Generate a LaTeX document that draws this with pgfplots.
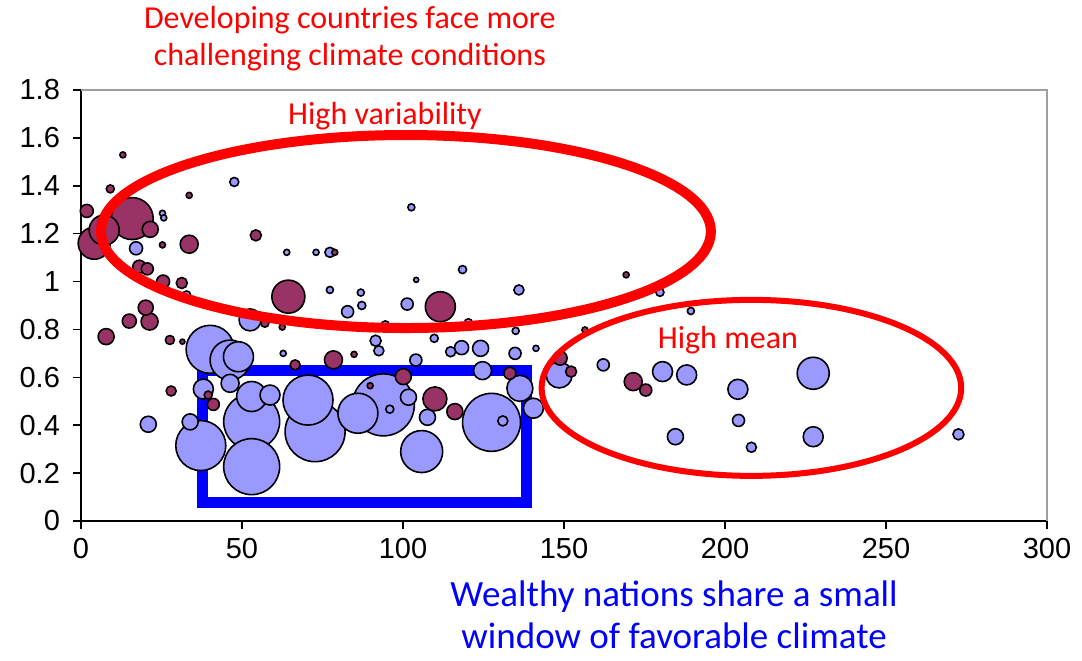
\documentclass[border=0pt]{standalone}
\usepackage{fontspec}
\setmainfont{Carlito}
\newfontfamily\arialfont{Liberation Sans}
\newcommand\tkf{\arialfont\fontsize{14.5}{16}\selectfont}
\usepackage{pgfplots}
\usepackage{pgfplotstable}
\pgfplotsset{compat=1.18}
\definecolor{bub}{RGB}{153,153,255}
\definecolor{plum}{RGB}{153,51,102}

\pgfplotstableread{
x y r
93.9 0.485 15.5
72.7 0.373 15
127.5 0.412 14.5
53.0 0.415 14
53.0 0.227 14
70.5 0.505 12.5
37.2 0.315 12.5
40.1 0.717 12
105.8 0.290 10.5
46.3 0.672 10
86.0 0.450 10
227.4 0.617 8
48.9 0.686 7.5
53.0 0.520 7.5
136.3 0.554 6.5
148.5 0.610 6.5
52.5 0.840 5.5
38.0 0.551 5
58.7 0.526 5
140.5 0.471 5
180.6 0.624 5
188.1 0.610 5
204.0 0.550 5
227.4 0.352 5
46.3 0.575 4.5
124.7 0.628 4.5
20.9 0.404 4
33.9 0.414 4
101.7 0.517 4
107.6 0.433 4
124.1 0.721 4
184.6 0.352 4
118.2 0.724 3.5
17.1 1.139 3.25
82.8 0.874 3
101.3 0.906 3
104.0 0.672 3
134.8 0.700 3
162.2 0.652 3
204.2 0.420 3
91.5 0.753 2.75
272.5 0.362 2.75
92.5 0.711 2.5
114.8 0.707 2.5
131.0 0.418 2.5
136.0 0.965 2.5
77.3 1.122 2.5
208.2 0.308 2.5
47.6 1.416 2.25
109.7 0.763 2
118.5 1.050 2
87.2 0.900 2
120.3 0.828 2
94.5 0.819 2
95.9 0.467 2
179.8 0.955 2
32.8 0.944 2
102.6 1.310 1.75
77.3 0.965 1.75
86.9 0.954 1.75
135.0 0.794 1.75
189.4 0.877 1.75
25.3 1.285 1.5
25.7 1.266 1.5
63.9 1.122 1.5
73.0 1.122 1.5
62.8 0.700 1.5
141.3 0.721 1.5
104.1 1.007 1.25
}\bluedata

\pgfplotstableread{
x y r
15.9 1.263 10.5
64.4 0.937 8.25
4.1 1.160 8
7.2 1.215 7.5
111.6 0.895 7.5
109.9 0.510 6
33.6 1.156 4.5
78.4 0.673 4.5
171.5 0.582 4.5
21.3 0.833 4.25
21.5 1.218 4
7.8 0.770 4
100.1 0.603 4
116.1 0.457 4
20.1 0.891 3.75
15.0 0.835 3.5
148.8 0.680 3.5
1.8 1.295 3.25
18.1 1.062 3.25
25.5 1.000 3.25
20.6 1.053 3
41.1 0.487 3
133.2 0.617 3
175.4 0.547 3
31.3 0.994 2.75
54.3 1.193 2.75
152.2 0.624 2.75
66.5 0.652 2.5
28.0 0.543 2.5
27.6 0.756 2.25
9.1 1.387 2
57.1 0.826 2
39.5 0.526 2
13.0 1.529 1.5
33.6 1.360 1.5
25.3 1.153 1.5
62.5 0.810 1.5
31.5 0.749 1.25
78.8 1.122 1.5
84.8 0.696 1.5
89.8 0.565 1.5
169.3 1.028 1.5
156.5 0.798 1.5
}\plumdata

\begin{document}
\begin{tikzpicture}
\path[use as bounding box] (-40.5pt,-69.5pt) rectangle (500.5pt,260.5pt);
\begin{axis}[
  name=ax, at={(0,0)}, anchor=south west,
  scale only axis, width=483pt, height=215.5pt,
  xmin=0, xmax=300, ymin=0, ymax=1.8,
  clip=false,
  axis x line*=bottom, axis y line*=left,
  axis line style={black, line width=0.75pt},
  tick style={black, line width=0.75pt},
  tick align=outside, major tick length=4pt,
  xtick={0,50,100,150,200,250,300},
  ytick={0,0.2,0.4,0.6,0.8,1,1.2,1.4,1.6,1.8},
  /pgf/number format/assume math mode=true,
  /pgf/number format/fixed,
  xticklabel={\tkf\pgfmathprintnumber{\tick}},
  yticklabel={\tkf\pgfmathprintnumber{\tick}},
  yticklabel style={xshift=-3pt},
  xticklabel style={yshift=-1pt},
]
\draw[gray!75, line width=0.75pt] (rel axis cs:0,1) -- (rel axis cs:1,1) -- (rel axis cs:1,0);

\addplot[scatter, only marks, mark=*, scatter src=y,
  scatter/use mapped color={draw=black, fill=bub},
  mark options={line width=0.8pt},
  visualization depends on={\thisrow{r} \as \rad},
  scatter/@pre marker code/.append style={/tikz/mark size=\rad}]
  table[x=x,y=y] {\bluedata};

\addplot[scatter, only marks, mark=*, scatter src=y,
  scatter/use mapped color={draw=black, fill=plum},
  mark options={line width=0.8pt},
  visualization depends on={\thisrow{r} \as \rad},
  scatter/@pre marker code/.append style={/tikz/mark size=\rad}]
  table[x=x,y=y] {\plumdata};

\draw[blue, line width=5.5pt] (axis cs:37.7,0.079) rectangle (axis cs:138.5,0.627);
\coordinate (e1) at (axis cs:100.9,1.209);
\coordinate (e2) at (axis cs:208.2,0.556);

\node[text=red, font=\fontsize{16}{18.5}\selectfont, align=center] at (axis cs:83.5,2.015) {Developing countries face more\\challenging climate conditions};
\node[text=red, font=\fontsize{16}{18.5}\selectfont] at (axis cs:94.4,1.692) {High variability};
\node[text=red, font=\fontsize{16}{18.5}\selectfont] at (axis cs:200.9,0.756) {High mean};
\node[text=blue, font=\fontsize{18.5}{21}\selectfont, align=center] at (axis cs:184.2,-0.393) {Wealthy nations share a small\\window of favorable climate};
\end{axis}
\draw[red, line width=5pt] (e1) ellipse [x radius=152.5pt, y radius=48.25pt];
\draw[red, line width=3pt] (e2) ellipse [x radius=104.9pt, y radius=44pt];
\end{tikzpicture}
\end{document}
